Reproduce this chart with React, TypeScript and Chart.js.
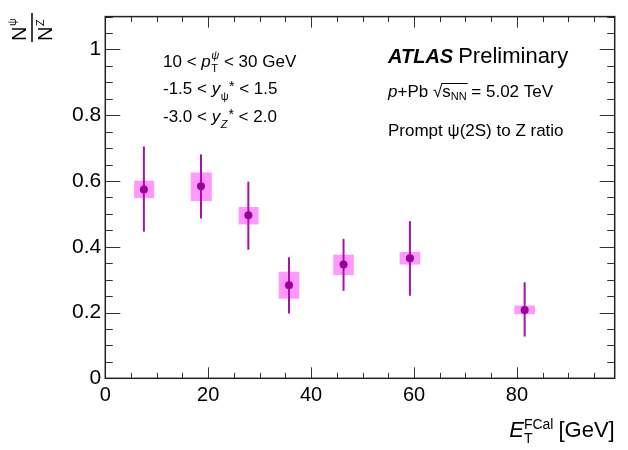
import React, { useEffect, useRef } from 'react';
import Chart from 'chart.js/auto';

// Prompt psi(2S) / Z ratio vs E_T^FCal
const etCenters = [7.5, 18.6, 27.8, 35.7, 46.3, 59.2, 81.5];
const ratio = [0.574, 0.584, 0.496, 0.283, 0.346, 0.365, 0.208];
const statLow = [0.446, 0.486, 0.391, 0.197, 0.266, 0.251, 0.127];
const statHigh = [0.705, 0.681, 0.598, 0.368, 0.424, 0.478, 0.292];
const sysLow = [0.548, 0.539, 0.468, 0.242, 0.314, 0.346, 0.195];
const sysHigh = [0.601, 0.626, 0.521, 0.324, 0.376, 0.384, 0.221];
const boxLeft = [5.6, 16.6, 25.9, 33.7, 44.3, 57.2, 79.5];
const boxRight = [9.5, 20.7, 29.8, 37.7, 48.3, 61.2, 83.5];

const xTicks = [0, 20, 40, 60, 80];
const yTicks = [0, 0.2, 0.4, 0.6, 0.8, 1];

const FONT = '"Liberation Sans", Arial, Helvetica, sans-serif';

interface Run {
  t: string;
  size: number;
  style?: string;
  dy?: number;
  gap?: number;
  stay?: boolean; // don't advance (for stacked sub/superscripts)
}

function font(size: number, style = '') {
  return `${style} ${size}px ${FONT}`.trim();
}

function runsWidth(ctx: CanvasRenderingContext2D, runs: Run[]) {
  let w = 0;
  let held = 0;
  for (const r of runs) {
    ctx.font = font(r.size, r.style);
    const m = ctx.measureText(r.t).width;
    if (r.stay) {
      held = Math.max(held, m);
      continue;
    }
    w += Math.max(m, held) + (r.gap || 0);
    held = 0;
  }
  return w + held;
}

// draws the runs left to right, returns the x where each run started (plus the end)
function drawRuns(ctx: CanvasRenderingContext2D, x: number, y: number, runs: Run[]) {
  let cx = x;
  let held = 0;
  const starts: number[] = [];
  for (const r of runs) {
    starts.push(cx);
    ctx.font = font(r.size, r.style);
    ctx.fillText(r.t, cx, y + (r.dy || 0));
    const m = ctx.measureText(r.t).width;
    if (r.stay) {
      held = Math.max(held, m);
      continue;
    }
    cx += Math.max(m, held) + (r.gap || 0);
    held = 0;
  }
  starts.push(cx);
  return starts;
}

const frameAndErrors = {
  id: 'frameAndErrors',
  beforeDatasetsDraw(chart: any) {
    const { ctx, scales } = chart;
    const xs = scales.x;
    const ys = scales.y;
    ctx.save();
    // systematic boxes
    ctx.fillStyle = '#ff99ff';
    etCenters.forEach((_, i) => {
      const x0 = xs.getPixelForValue(boxLeft[i]);
      const x1 = xs.getPixelForValue(boxRight[i]);
      const y0 = ys.getPixelForValue(sysHigh[i]);
      const y1 = ys.getPixelForValue(sysLow[i]);
      ctx.fillRect(x0, y0, x1 - x0, y1 - y0);
    });
    // statistical bars
    ctx.strokeStyle = '#aa11aa';
    ctx.lineWidth = 2;
    etCenters.forEach((x, i) => {
      const px = xs.getPixelForValue(x);
      ctx.beginPath();
      ctx.moveTo(px, ys.getPixelForValue(statHigh[i]));
      ctx.lineTo(px, ys.getPixelForValue(statLow[i]));
      ctx.stroke();
    });
    ctx.restore();
  },
  afterDraw(chart: any) {
    const { ctx, chartArea, scales } = chart;
    const xs = scales.x;
    const ys = scales.y;
    const { left, right, top, bottom } = chartArea;
    ctx.save();

    // ticks pointing inwards, ROOT style
    ctx.strokeStyle = '#333';
    ctx.lineWidth = 1;
    ctx.beginPath();
    for (let v = 0; v <= 1.1 + 1e-9; v += 0.05) {
      const major = Math.abs(v / 0.2 - Math.round(v / 0.2)) < 1e-6;
      const len = major ? 15 : 7.5;
      const py = Math.round(ys.getPixelForValue(v)) + 0.5;
      ctx.moveTo(left, py);
      ctx.lineTo(left + len, py);
      ctx.moveTo(right, py);
      ctx.lineTo(right - len, py);
    }
    for (let v = 0; v <= 99; v += 5) {
      const major = v % 20 === 0;
      const len = major ? 11 : 5.5;
      const px = Math.round(xs.getPixelForValue(v)) + 0.5;
      ctx.moveTo(px, bottom);
      ctx.lineTo(px, bottom - len);
      ctx.moveTo(px, top);
      ctx.lineTo(px, top + len);
    }
    ctx.stroke();

    ctx.strokeStyle = '#222';
    ctx.lineWidth = 1.5;
    ctx.strokeRect(left, top, right - left, bottom - top);

    ctx.fillStyle = '#000';
    ctx.textAlign = 'left';
    ctx.textBaseline = 'alphabetic';

    // cut text, left block
    drawRuns(ctx, 163, 66.5, [
      { t: '10 < ', size: 17 },
      { t: 'p', size: 17, style: 'italic', gap: 0.5 },
      { t: 'ψ', size: 11, style: 'italic', dy: -8, stay: true },
      { t: 'T', size: 11, dy: 5 },
      { t: ' < 30 GeV', size: 17 },
    ]);
    drawRuns(ctx, 163, 94, [
      { t: '-1.5 < ', size: 17 },
      { t: 'y', size: 17, style: 'italic', gap: 0.5 },
      { t: 'ψ', size: 11, dy: 6, gap: 0.5 },
      { t: '*', size: 14, dy: -3 },
      { t: ' < 1.5', size: 17 },
    ]);
    drawRuns(ctx, 163, 121.5, [
      { t: '-3.0 < ', size: 17 },
      { t: 'y', size: 17, style: 'italic', gap: 0.5 },
      { t: 'Z', size: 11, style: 'italic', dy: 6, gap: 1 },
      { t: '*', size: 14, dy: -3 },
      { t: ' < 2.0', size: 17 },
    ]);

    // ATLAS label block
    drawRuns(ctx, 388, 62.5, [
      { t: 'ATLAS', size: 20, style: 'italic bold', gap: 5 },
      { t: 'Preliminary', size: 22 },
    ]);
    const sq = drawRuns(ctx, 388, 97, [
      { t: 'p', size: 17, style: 'italic' },
      { t: '+Pb ', size: 17 },
      { t: '√', size: 17, gap: 0 },
      { t: 's', size: 17, gap: 0 },
      { t: 'NN', size: 11, dy: 3 },
      { t: ' = 5.02 TeV', size: 17 },
    ]);
    ctx.strokeStyle = '#000';
    ctx.lineWidth = 1;
    ctx.beginPath();
    ctx.moveTo(sq[3] - 1, 83.5);
    ctx.lineTo(sq[5] + 1, 83.5);
    ctx.stroke();
    drawRuns(ctx, 388, 136, [{ t: 'Prompt ψ(2S) to Z ratio', size: 17 }]);

    // x title, right aligned to frame
    const xTitle: Run[] = [
      { t: 'E', size: 22, style: 'italic', gap: 0 },
      { t: 'FCal', size: 14, dy: -8, stay: true },
      { t: 'T', size: 14, dy: 6, gap: 5 },
      { t: '[GeV]', size: 22 },
    ];
    drawRuns(ctx, right - runsWidth(ctx, xTitle), 436.7, xTitle);

    // y title: rotated fraction N^psi / N^Z
    ctx.translate(32, 27);
    ctx.rotate(-Math.PI / 2);
    ctx.font = font(20);
    ctx.fillText('N', -14, -6);
    ctx.fillText('N', -14, 20);
    ctx.font = font(11);
    ctx.fillText('ψ', 1, -16);
    ctx.fillText('Z', 1, 12);
    ctx.lineWidth = 1.5;
    ctx.beginPath();
    ctx.moveTo(-15, 0);
    ctx.lineTo(14, 0);
    ctx.stroke();

    ctx.restore();
  },
};

const App: React.FC = () => {
  const canvasRef = useRef<HTMLCanvasElement>(null);
  const chartRef = useRef<Chart | null>(null);

  useEffect(() => {
    if (!canvasRef.current) return;
    const ctx = canvasRef.current.getContext('2d');
    if (!ctx) return;
    if (chartRef.current) chartRef.current.destroy();

    chartRef.current = new Chart(ctx, {
      type: 'scatter',
      data: {
        datasets: [
          {
            label: 'ratio',
            data: etCenters.map((x, i) => ({ x, y: ratio[i] })),
            backgroundColor: '#990099',
            borderWidth: 0,
            pointRadius: 4,
          },
        ],
      },
      options: {
        responsive: false,
        animation: false,
        layout: { padding: { top: 12.7, right: 13.3, left: 0, bottom: 0 } },
        plugins: {
          legend: { display: false },
          tooltip: { enabled: false },
        },
        scales: {
          x: {
            type: 'linear',
            min: 0,
            max: 99,
            grid: { display: false, drawTicks: false },
            border: { display: false },
            afterBuildTicks: (s: any) => {
              s.ticks = xTicks.map((value) => ({ value }));
            },
            afterFit: (s: any) => {
              s.height = 71.7;
            },
            ticks: {
              color: '#000',
              font: { family: FONT, size: 20 },
              padding: 5,
              maxRotation: 0,
              callback: (v: any) => String(v),
            },
          },
          y: {
            type: 'linear',
            min: 0,
            max: 1.1,
            grid: { display: false, drawTicks: false },
            border: { display: false },
            afterBuildTicks: (s: any) => {
              s.ticks = yTicks.map((value) => ({ value }));
            },
            afterFit: (s: any) => {
              s.width = 105.3;
            },
            ticks: {
              color: '#000',
              font: { family: FONT, size: 21 },
              padding: 4,
              callback: (v: any) => (v === 0 ? '0' : v === 1 ? '1' : Number(v).toFixed(1)),
            },
          },
        },
      },
      plugins: [frameAndErrors],
    });

    return () => {
      if (chartRef.current) {
        chartRef.current.destroy();
        chartRef.current = null;
      }
    };
  }, []);

  return (
    <div style={{ position: 'fixed', left: 0, top: 0, width: 628, height: 450, background: '#fff' }}>
      <canvas ref={canvasRef} width={628} height={450} style={{ width: 628, height: 450 }}></canvas>
    </div>
  );
};

export default App;
